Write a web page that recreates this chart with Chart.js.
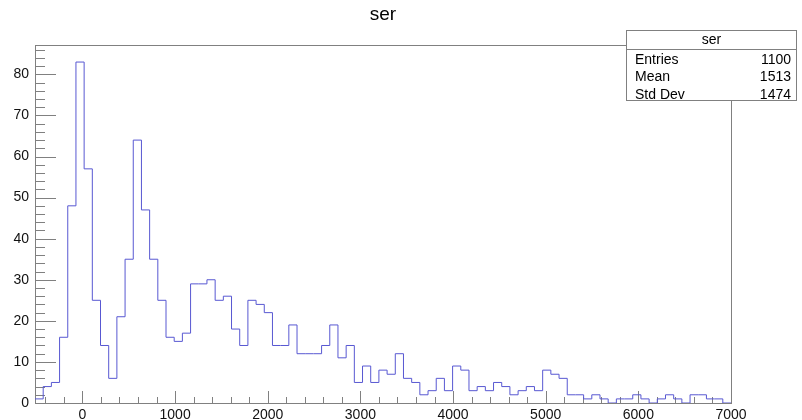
<!DOCTYPE html>
<html>
<head>
<meta charset="utf-8">
<script src="https://cdn.jsdelivr.net/npm/chart.js@4.4.1/dist/chart.umd.min.js"></script>
<style>
  html, body { margin: 0; padding: 0; background: #fff; }
</style>
</head>
<body>
<canvas id="hist" width="802" height="420"></canvas>
<script>
const histTitle = "ser";
const xMin = -512;
const xMax = 7000;
const yMax = 87.15;

// bin contents, 85 bins from xMin to xMax
const counts = [
  1, 4, 5, 16, 48, 83, 57, 25, 14, 6,
  21, 35, 64, 47, 35, 25, 16, 15, 17, 29,
  29, 30, 25, 26, 18, 14, 25, 24, 22, 14,
  14, 19, 12, 12, 12, 14, 19, 11, 14, 5,
  9, 5, 8, 7, 12, 6, 5, 2, 3, 6,
  3, 9, 8, 3, 4, 3, 5, 4, 2, 3,
  4, 3, 8, 7, 6, 2, 2, 1, 2, 1,
  0, 1, 1, 2, 1, 0, 1, 2, 1, 0,
  2, 2, 1, 1, 0
];

const xTickLabels = [0, 1000, 2000, 3000, 4000, 5000, 6000, 7000];
const yTickLabels = [0, 10, 20, 30, 40, 50, 60, 70, 80];

const statNames = ["Entries", "Mean", "Std Dev"];
const statValues = ["1100", "1513", "1474"];

const FONT = "'Liberation Sans', Arial, Helvetica, sans-serif";
const lineColor = "rgb(88, 88, 210)";
const frameColor = "#808080";

const binWidth = (xMax - xMin) / counts.length;
// each bin's count at its left edge, plus the closing edge at xMax
const points = counts.map((c, i) => ({ x: xMin + i * binWidth, y: c }));
points.push({ x: xMax, y: counts[counts.length - 1] });

// ROOT style frame, inward ticks, title and stats box
const rootStyle = {
  id: "rootStyle",
  beforeDatasetsDraw(chart) {
    const { ctx, chartArea: a, scales } = chart;
    const x = scales.x, y = scales.y;
    ctx.save();
    ctx.strokeStyle = frameColor;
    ctx.lineWidth = 1;
    ctx.strokeRect(a.left + 0.5, a.top + 0.5, a.right - a.left, a.bottom - a.top);

    ctx.beginPath();
    for (let v = -400; v <= xMax; v += 200) {
      const px = Math.round(x.getPixelForValue(v)) + 0.5;
      const len = v % 1000 === 0 ? 12 : 6;
      ctx.moveTo(px, a.bottom);
      ctx.lineTo(px, a.bottom - len);
    }
    for (let v = 0; v <= yMax; v += 2) {
      const py = Math.round(y.getPixelForValue(v)) + 0.5;
      const len = v % 10 === 0 ? 21 : 10;
      ctx.moveTo(a.left, py);
      ctx.lineTo(a.left + len, py);
    }
    ctx.stroke();
    ctx.restore();
  },
  afterDraw(chart) {
    const ctx = chart.ctx;
    ctx.save();
    ctx.fillStyle = "#000";
    ctx.font = "19px " + FONT;
    ctx.textAlign = "center";
    ctx.textBaseline = "alphabetic";
    ctx.fillText(histTitle, 383, 20);

    // stats box
    const bx = 626.5, by = 30.5, bw = 170, bh = 70;
    ctx.fillStyle = "#fff";
    ctx.fillRect(bx, by, bw, bh);
    ctx.strokeStyle = frameColor;
    ctx.lineWidth = 1;
    ctx.strokeRect(bx, by, bw, bh);
    ctx.beginPath();
    ctx.moveTo(bx, 49.5);
    ctx.lineTo(bx + bw, 49.5);
    ctx.stroke();

    ctx.fillStyle = "#000";
    ctx.font = "14px " + FONT;
    ctx.textAlign = "center";
    ctx.fillText(histTitle, bx + bw / 2, 44);
    const rows = [63.5, 81, 98.5];
    statNames.forEach((name, i) => {
      ctx.textAlign = "left";
      ctx.fillText(name, 635, rows[i]);
      ctx.textAlign = "right";
      ctx.fillText(statValues[i], 791, rows[i]);
    });
    ctx.restore();
  }
};

new Chart(document.getElementById("hist"), {
  type: "line",
  data: {
    datasets: [
      {
        label: histTitle,
        data: points,
        stepped: "before",
        borderColor: lineColor,
        borderWidth: 1,
        pointRadius: 0,
        fill: false,
      },
    ],
  },
  options: {
    responsive: false,
    animation: false,
    devicePixelRatio: 1,
    layout: { padding: { top: 45, right: 71, left: 0, bottom: 0 } },
    plugins: {
      legend: { display: false },
      tooltip: { enabled: false },
    },
    scales: {
      x: {
        type: "linear",
        min: xMin,
        max: xMax,
        grid: { display: false, drawTicks: false },
        border: { display: false },
        ticks: {
          color: "#111",
          font: { family: FONT, size: 14 },
          padding: 4,
          maxRotation: 0,
          autoSkip: false,
          includeBounds: false,
          callback: (v) => String(v),
        },
        afterBuildTicks: (s) => { s.ticks = xTickLabels.map((v) => ({ value: v })); },
        afterFit: (s) => { s.height = 17; },
      },
      y: {
        min: 0,
        max: yMax,
        grid: { display: false, drawTicks: false },
        border: { display: false },
        ticks: {
          color: "#111",
          font: { family: FONT, size: 14 },
          padding: 6,
          includeBounds: false,
          callback: (v) => String(v),
        },
        afterBuildTicks: (s) => { s.ticks = yTickLabels.map((v) => ({ value: v })); },
        afterFit: (s) => { s.width = 35; },
      },
    },
  },
  plugins: [rootStyle],
});
</script>
</body>
</html>
